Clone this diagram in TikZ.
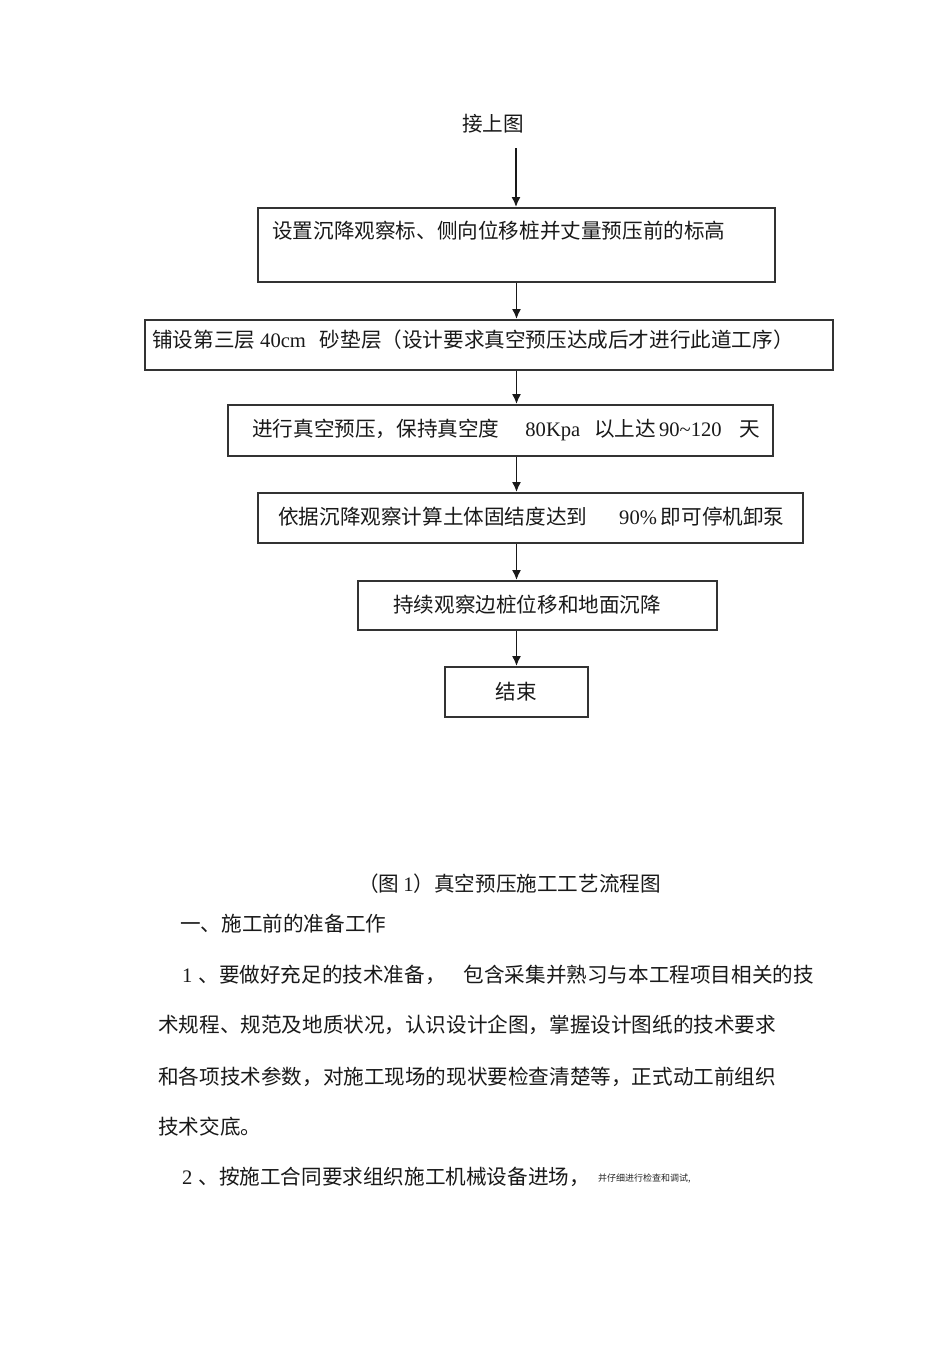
\documentclass[tikz,border=0pt]{standalone}
\usepackage{fontspec}
\setmainfont{Noto Sans CJK SC}
\newfontfamily\lat{Liberation Serif}
\usetikzlibrary{arrows.meta}
\tikzset{
  box/.style={draw=black!80, line width=1.8pt, inner sep=0pt, fill=none},
  txt/.style={anchor=west, inner sep=0pt, font=\fontsize{20.6}{24}\selectfont, text=black!90},
  ctxt/.style={inner sep=0pt, font=\fontsize{20.6}{24}\selectfont, text=black!90},
  small/.style={anchor=west, inner sep=0pt, font=\fontsize{9}{11}\selectfont, text=black!85},
  flow/.style={draw=black!90, line width=1.8pt, -{Latex[length=10pt,width=9pt]}}
}
\begin{document}
\begin{tikzpicture}[x=1pt,y=-1pt]
\useasboundingbox[fill=white] (0,0) rectangle (950,1345);
% header
\node[ctxt] (top) at (493,124) {接上图};
\coordinate (s) at (516,148);
% boxes
\node[box, minimum width=517pt, minimum height=74pt] (b1) at (516.5,245) {};
\node[box, minimum width=688pt, minimum height=50pt] (b2) at (489,345) {};
\node[box, minimum width=545pt, minimum height=51pt] (b3) at (500.5,430.5) {};
\node[box, minimum width=545pt, minimum height=50pt] (b4) at (530.5,518) {};
\node[box, minimum width=359pt, minimum height=49pt] (b5) at (537.5,605.5) {};
\node[box, minimum width=143pt, minimum height=50pt] (b6) at (516.5,692) {};
% box texts
\node[txt] (t1) at (272,231) {设置沉降观察标、侧向位移桩并丈量预压前的标高};
\node[txt] (t2) at (152,340) {铺设第三层\hspace{5pt}{\lat 40cm}\hspace{14pt}砂垫层（设计要求真空预压达成后才进行此道工序）};
\node[txt] (t3) at (252,430) {进行真空预压，保持真空度\hspace{26pt}{\lat 80Kpa}\hspace{14pt}以上达\hspace{3pt}{\lat 90\char`~120}\hspace{18pt}天};
\node[txt] (t4) at (278,517) {依据沉降观察计算土体固结度达到\hspace{32pt}{\lat 90\%}\hspace{4pt}即可停机卸泵};
\node[txt] (t5) at (393,605) {持续观察边桩位移和地面沉降};
\node[ctxt] (t6) at (516,692) {结束};
% connectors
\draw[flow] (s) -- (s |- b1.north);
\draw[flow] (b1.south) -- (b1.south |- b2.north);
\draw[flow] (b1.south |- b2.south) -- (b1.south |- b3.north);
\draw[flow] (b1.south |- b3.south) -- (b1.south |- b4.north);
\draw[flow] (b1.south |- b4.south) -- (b1.south |- b5.north);
\draw[flow] (b1.south |- b5.south) -- (b6.north);
% caption and body text
\node[txt] (cap) at (358,884) {（图\hspace{4pt}{\lat 1}）真空预压施工工艺流程图};
\node[txt] (h1) at (180,924) {一、施工前的准备工作};
\node[txt] (p1) at (182,975) {{\lat 1}\hspace{6pt}、要做好充足的技术准备，\hspace{18pt}包含采集并熟习与本工程项目相关的技};
\node[txt] (p2) at (158,1025) {术规程、规范及地质状况，认识设计企图，掌握设计图纸的技术要求};
\node[txt] (p3) at (158,1077) {和各项技术参数，对施工现场的现状要检查清楚等，正式动工前组织};
\node[txt] (p4) at (158,1127) {技术交底。};
\node[txt] (p5) at (182,1177) {{\lat 2}\hspace{6pt}、按施工合同要求组织施工机械设备进场，};
\node[small] (p5b) at (598,1179) {并仔细进行检查和调试,};
\end{tikzpicture}
\end{document}
